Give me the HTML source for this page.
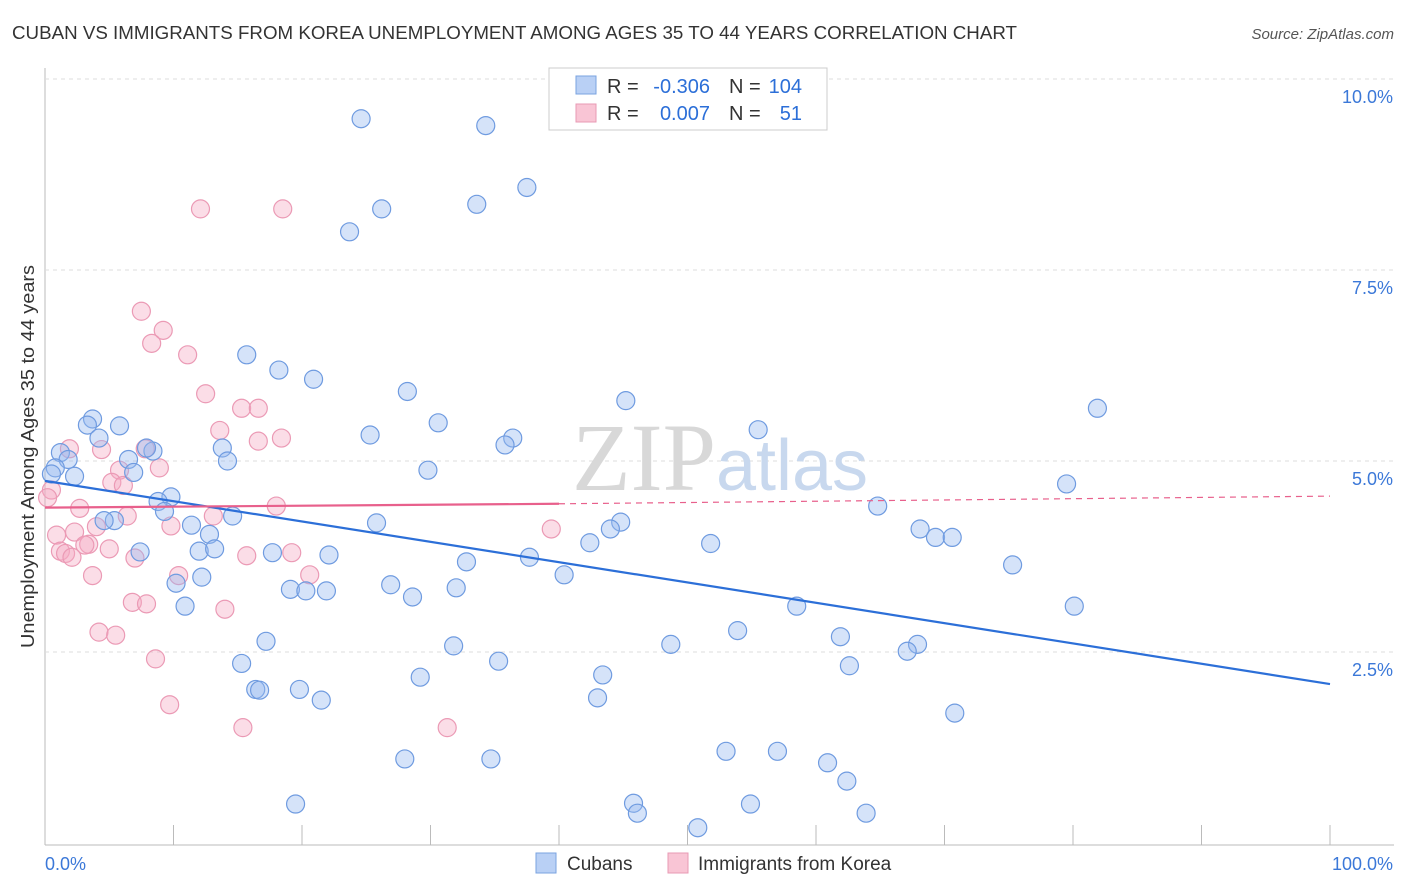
<!DOCTYPE html>
<html><head><meta charset="utf-8"><style>
body{margin:0;background:#fff;font-family:"Liberation Sans",sans-serif}
svg{display:block}
</style></head><body>
<svg id="c" width="1406" height="892">
<text x="12" y="39" font-size="18" fill="#333" textLength="1005" lengthAdjust="spacingAndGlyphs">CUBAN VS IMMIGRANTS FROM KOREA UNEMPLOYMENT AMONG AGES 35 TO 44 YEARS CORRELATION CHART</text>
<text x="1394" y="39" font-size="15" fill="#555" font-style="italic" text-anchor="end">Source: ZipAtlas.com</text>
<text x="0" y="0" transform="translate(34,648) rotate(-90)" font-size="18" fill="#333" textLength="383" lengthAdjust="spacingAndGlyphs">Unemployment Among Ages 35 to 44 years</text>
<g id="grid"></g>
<text x="720" y="490" font-size="96" fill="#d8d8d8" text-anchor="middle" font-family="Liberation Serif,serif">ZIP<tspan fill="#c8d8ee" font-family="Liberation Sans,sans-serif" font-size="72">atlas</tspan></text>
<g id="pts"></g>
<g id="lines"></g>
<g>
<rect x="549" y="68" width="278" height="62" fill="#fff" stroke="#ccc"/>
<rect x="576" y="76" width="20" height="18" fill="#b9d0f5" stroke="#7aa3e0"/>
<rect x="576" y="104" width="20" height="18" fill="#f9c5d5" stroke="#e89ab4"/>
<g font-size="20" fill="#333">
<text x="607" y="93">R =</text><text x="710" y="93" text-anchor="end" fill="#2c6fd8">-0.306</text>
<text x="729" y="93">N =</text><text x="802" y="93" text-anchor="end" fill="#2c6fd8">104</text>
<text x="607" y="120">R =</text><text x="710" y="120" text-anchor="end" fill="#2c6fd8">0.007</text>
<text x="729" y="120">N =</text><text x="802" y="120" text-anchor="end" fill="#2c6fd8">51</text>
</g>
</g>
<g>
<rect x="536" y="853" width="20" height="20" fill="#b9d0f5" stroke="#7aa3e0"/>
<text x="567" y="870" font-size="19" fill="#333">Cubans</text>
<rect x="668" y="853" width="20" height="20" fill="#f9c5d5" stroke="#e89ab4"/>
<text x="698" y="870" font-size="19" fill="#333">Immigrants from Korea</text>
</g>
</svg>
<script>
const yTicks=[2.5,5.0,7.5,10.0];
const xTickLabels=["0.0%","100.0%"];
const cubanX=[24.6,34.3,37.5,33.6,26.2,23.7,15.7,18.2,20.9,28.2,45.2,81.9,3.7,30.6,3.3,5.8,55.5,25.3,36.4,4.2,35.8,8.4,7.9,13.8,1.2,6.5,1.8,14.2,29.8,0.8,0.5,2.3,6.9,79.5,9.8,8.8,9.3,64.8,14.6,25.8,5.4,4.6,11.4,44.8,44.0,68.1,69.3,70.6,12.8,42.4,51.8,12.0,13.2,7.4,17.7,22.1,37.7,32.8,75.3,40.4,12.2,10.2,26.9,19.1,20.3,21.9,32.0,28.6,10.9,58.5,80.1,53.9,61.9,48.7,17.2,67.9,31.8,67.1,15.3,35.3,62.6,43.4,29.2,16.4,16.7,19.8,21.5,43.0,70.8,53.0,57.0,28.0,34.7,60.9,62.4,19.5,45.8,54.9,46.1,63.9,50.8];
const cubanY=[9.48,9.39,8.58,8.36,8.30,8.00,6.39,6.19,6.07,5.91,5.79,5.69,5.55,5.50,5.47,5.46,5.41,5.34,5.30,5.30,5.21,5.13,5.17,5.17,5.11,5.02,5.02,5.00,4.88,4.91,4.83,4.80,4.85,4.70,4.53,4.47,4.34,4.41,4.28,4.19,4.22,4.22,4.16,4.20,4.11,4.11,4.00,4.00,4.04,3.93,3.92,3.82,3.85,3.81,3.80,3.77,3.74,3.68,3.64,3.51,3.48,3.40,3.38,3.32,3.30,3.30,3.34,3.22,3.10,3.10,3.10,2.78,2.70,2.60,2.64,2.60,2.58,2.51,2.35,2.38,2.32,2.20,2.17,2.01,2.00,2.01,1.87,1.90,1.70,1.20,1.20,1.10,1.10,1.05,0.81,0.51,0.52,0.51,0.39,0.39,0.20];
const koreaX=[12.1,18.5,7.5,9.2,8.3,11.1,12.5,15.3,16.6,13.6,18.4,16.6,1.9,4.4,7.8,8.9,5.8,5.2,6.1,0.5,2.7,18.0,6.4,13.1,9.8,4.0,39.4,2.3,0.9,3.4,3.1,5.0,1.2,1.6,2.1,7.0,15.7,19.2,10.4,3.7,20.6,6.8,7.9,14.0,4.2,5.5,8.6,9.7,15.4,31.3,0.2];
const koreaY=[8.30,8.30,6.96,6.71,6.54,6.39,5.88,5.69,5.69,5.40,5.30,5.26,5.16,5.15,5.16,4.91,4.88,4.72,4.68,4.62,4.38,4.41,4.28,4.28,4.15,4.14,4.11,4.07,4.03,3.91,3.90,3.85,3.82,3.79,3.74,3.73,3.76,3.80,3.50,3.50,3.51,3.15,3.13,3.06,2.76,2.72,2.41,1.81,1.51,1.51,4.52];
const cubanTrend=[4.74,2.08];
const koreaTrend=[4.39,4.44,4.54];
const X0=45,X1=1330,Y0=843,Y10=79;
const sx=v=>X0+(X1-X0)*v/100, sy=v=>Y0-(Y0-Y10)*v/10;
const NS="http://www.w3.org/2000/svg";
function mk(tag,attrs,parent){const e=document.createElementNS(NS,tag);for(const k in attrs)e.setAttribute(k,attrs[k]);parent.appendChild(e);return e;}
const grid=document.getElementById('grid');
let ax=mk('line',{x1:45,y1:68,x2:45,y2:845,stroke:'#bbb'},grid);


let bx=mk('line',{x1:45,y1:845,x2:1394,y2:845,stroke:'#bbb'},grid);


for(const t of yTicks){
 const y=sy(t);
 const l=mk('line',{x1:45,y1:y,x2:1394,y2:y,stroke:'#ddd','stroke-dasharray':'4,4'},grid);
 
 
 const tx=mk('text',{x:1393,y:y+24,'font-size':18,fill:'#3b78d8','text-anchor':'end'},grid);
 tx.textContent=t.toFixed(1)+'%';
 
 
}
for(let i=0;i<=10;i++){
 const x=sx(i*10);
 const tk=mk('line',{x1:x,y1:825,x2:x,y2:845,stroke:'#bbb'},grid);
 
 
}
const xl=mk('text',{x:45,y:870,'font-size':18,fill:'#3b78d8'},grid);xl.textContent=xTickLabels[0];


const xr=mk('text',{x:1393,y:870,'font-size':18,fill:'#3b78d8','text-anchor':'end'},grid);xr.textContent=xTickLabels[1];


const pts=document.getElementById('pts');
koreaX.forEach((v,i)=>{const c=mk('circle',{cx:sx(v),cy:sy(koreaY[i]),r:9,fill:'rgba(245,170,195,0.4)',stroke:'#eb9ab5','stroke-width':1.2},pts);
 
 });
cubanX.forEach((v,i)=>{const c=mk('circle',{cx:sx(v),cy:sy(cubanY[i]),r:9,fill:'rgba(150,185,240,0.4)',stroke:'#6f9be0','stroke-width':1.2},pts);
 
 });
const lines=document.getElementById('lines');
const bl=mk('line',{x1:sx(0),y1:sy(cubanTrend[0]),x2:sx(100),y2:sy(cubanTrend[1]),stroke:'#2c6fd8','stroke-width':2.2},lines);


const pl=mk('line',{x1:sx(0),y1:sy(koreaTrend[0]),x2:sx(40),y2:sy(koreaTrend[1]),stroke:'#e8608c','stroke-width':2.2},lines);


const pd=mk('line',{x1:sx(40),y1:sy(koreaTrend[1]),x2:sx(100),y2:sy(koreaTrend[2]),stroke:'#e8608c','stroke-width':1.2,'stroke-dasharray':'6,5'},lines);


</script>
</body></html>
